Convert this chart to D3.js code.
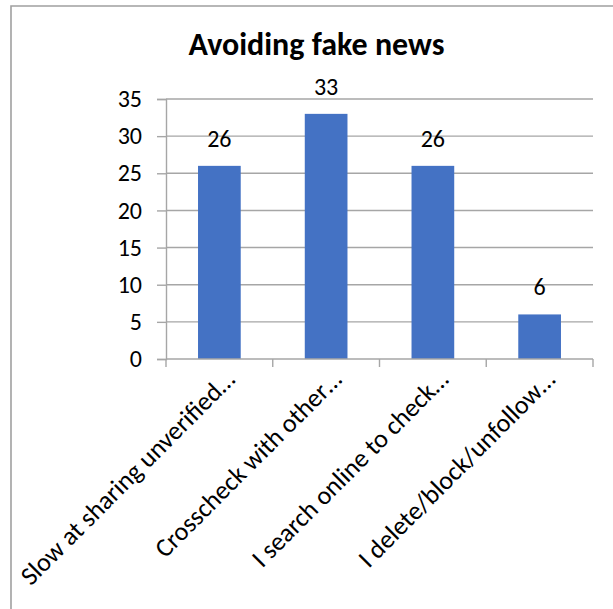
<!DOCTYPE html>
<html>
<head>
<meta charset="utf-8">
<script src="https://cdn.jsdelivr.net/npm/d3@7"></script>
<style>
  html, body { margin: 0; padding: 0; background: #fff; }
  svg { display: block; }
  text { font-family: Carlito, Calibri, Lato, "Open Sans", sans-serif; }
</style>
</head>
<body>
<svg id="chart" width="613" height="609"></svg>
<script>
// Survey answers: how respondents avoid fake news
const categories = [
  "Slow at sharing unverified\u2026",
  "Crosscheck with other\u2026",
  "I search online to check\u2026",
  "I delete/block/unfollow\u2026"
];
const values = [26, 33, 26, 6];
const yTicks = [0, 5, 10, 15, 20, 25, 30, 35];
const title = "Avoiding fake news";

const svg = d3.select("#chart");
const W = 613, H = 609;
const margin = { left: 166, top: 99 };
const plotRight = 593, plotBottom = 359;

const gridColor = "#a6a6a6";
const barColor = "#4472c4";
const numSize = 24, catSize = 26, titleSize = 32;

// chart frame (only left and top edges are visible in the crop)
svg.append("path")
  .attr("d", `M11,${H} L11,6 L${W},6`)
  .attr("fill", "none")
  .attr("stroke", "#a0a0a0")
  .attr("stroke-width", 1.6);

const x = d3.scaleBand().domain(categories).range([margin.left, plotRight]);
const y = d3.scaleLinear().domain([0, 35]).range([plotBottom, margin.top]);
const barW = x.bandwidth() / 2.5;

// horizontal gridlines
svg.append("g").selectAll("line")
  .data(yTicks.filter(t => t > 0))
  .join("line")
  .attr("x1", margin.left).attr("x2", plotRight)
  .attr("y1", d => y(d)).attr("y2", d => y(d))
  .attr("stroke", gridColor).attr("stroke-width", 1.4);

// y axis
const yAxis = svg.append("g")
  .attr("transform", `translate(${margin.left},0)`)
  .call(d3.axisLeft(y).tickValues(yTicks).tickSize(9).tickPadding(15));
yAxis.select(".domain").attr("stroke", gridColor).attr("stroke-width", 1.4);
yAxis.selectAll(".tick line").attr("stroke", gridColor).attr("stroke-width", 1.4);
yAxis.selectAll(".tick text")
  .attr("font-family", "Carlito, Calibri, Lato, sans-serif")
  .attr("font-size", numSize).attr("fill", "#000");

// bars
svg.append("g").selectAll("rect")
  .data(values)
  .join("rect")
  .attr("x", (d, i) => x(categories[i]) + (x.bandwidth() - barW) / 2)
  .attr("width", barW)
  .attr("y", d => y(d))
  .attr("height", d => y(0) - y(d))
  .attr("fill", barColor);

// x axis line with ticks at category boundaries
svg.append("line")
  .attr("x1", margin.left).attr("x2", plotRight)
  .attr("y1", plotBottom).attr("y2", plotBottom)
  .attr("stroke", gridColor).attr("stroke-width", 1.4);
const bounds = categories.map(c => x(c)).concat([plotRight]);
svg.append("g").selectAll("line")
  .data(bounds)
  .join("line")
  .attr("x1", d => d).attr("x2", d => d)
  .attr("y1", plotBottom).attr("y2", plotBottom + 8)
  .attr("stroke", gridColor).attr("stroke-width", 1.4);

// value labels
svg.append("g").selectAll("text")
  .data(values)
  .join("text")
  .attr("x", (d, i) => x(categories[i]) + x.bandwidth() / 2)
  .attr("y", d => y(d) - 19)
  .attr("text-anchor", "middle")
  .attr("font-size", numSize)
  .attr("fill", "#000")
  .text(d => d);

// category labels rotated -45°
svg.append("g").selectAll("text")
  .data(categories)
  .join("text")
  .attr("transform", c => `translate(${x(c) + x.bandwidth() / 2 + 17},${plotBottom + 22}) rotate(-45)`)
  .attr("text-anchor", "end")
  .attr("font-size", catSize)
  .attr("fill", "#000")
  .text(c => c);

// title
svg.append("text")
  .attr("x", 316.5)
  .attr("y", 55)
  .attr("text-anchor", "middle")
  .attr("font-size", titleSize)
  .attr("font-weight", "bold")
  .attr("fill", "#000")
  .text(title);
</script>
</body>
</html>
